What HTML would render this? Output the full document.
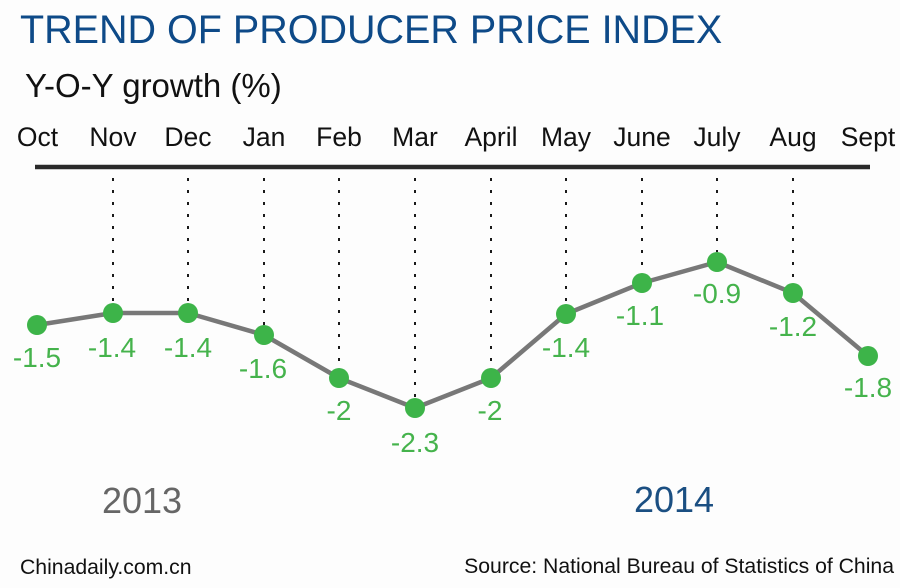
<!DOCTYPE html>
<html>
<head>
<meta charset="utf-8">
<style>
  html,body{margin:0;padding:0;background:#fdfdfd;}
  body{width:900px;height:588px;overflow:hidden;}
  svg{display:block;}
  text{font-family:"Liberation Sans", Arial, sans-serif;}
</style>
</head>
<body>
<svg width="900" height="588" viewBox="0 0 900 588" xmlns="http://www.w3.org/2000/svg">
  <rect x="0" y="0" width="900" height="588" fill="#fdfdfd"/>
  <text x="20" y="43" font-size="39.5" fill="#0e4a88">TREND OF PRODUCER PRICE INDEX</text>
  <text x="25" y="97" font-size="33" fill="#111">Y-O-Y growth (%)</text>

  <g font-size="26.5" fill="#111" text-anchor="middle">
    <text x="37.5" y="146">Oct</text>
    <text x="113" y="146">Nov</text>
    <text x="188" y="146">Dec</text>
    <text x="264" y="146">Jan</text>
    <text x="339" y="146">Feb</text>
    <text x="415" y="146">Mar</text>
    <text x="491" y="146">April</text>
    <text x="566" y="146">May</text>
    <text x="642" y="146">June</text>
    <text x="717" y="146">July</text>
    <text x="793" y="146">Aug</text>
    <text x="868" y="146">Sept</text>
  </g>

  <line x1="35" y1="167" x2="870" y2="167" stroke="#2a2a2a" stroke-width="4.5"/>

  <g stroke="#1a1a1a" stroke-width="2" stroke-dasharray="3 9">
    <line x1="113" y1="178" x2="113" y2="304"/>
    <line x1="188" y1="178" x2="188" y2="304"/>
    <line x1="264" y1="178" x2="264" y2="325"/>
    <line x1="339" y1="178" x2="339" y2="368"/>
    <line x1="415" y1="178" x2="415" y2="398"/>
    <line x1="491" y1="178" x2="491" y2="368"/>
    <line x1="566" y1="178" x2="566" y2="304"/>
    <line x1="642" y1="178" x2="642" y2="273"/>
    <line x1="717" y1="178" x2="717" y2="252"/>
    <line x1="793" y1="178" x2="793" y2="283"/>
  </g>

  <polyline fill="none" stroke="#787878" stroke-width="4.5" stroke-linejoin="round"
    points="37,325 113,313 188,313 264,335 339,378 415,408 491,378 566,314 642,283 717,262 793,293 868,356"/>

  <g fill="#3db449">
    <circle cx="37" cy="325" r="10"/>
    <circle cx="113" cy="313" r="10"/>
    <circle cx="188" cy="313" r="10"/>
    <circle cx="264" cy="335" r="10"/>
    <circle cx="339" cy="378" r="10"/>
    <circle cx="415" cy="408" r="10"/>
    <circle cx="491" cy="378" r="10"/>
    <circle cx="566" cy="314" r="10"/>
    <circle cx="642" cy="283" r="10"/>
    <circle cx="717" cy="262" r="10"/>
    <circle cx="793" cy="293" r="10"/>
    <circle cx="868" cy="356" r="10"/>
  </g>

  <g font-size="28" fill="#45b34c" text-anchor="middle">
    <text x="37" y="367">-1.5</text>
    <text x="112" y="357">-1.4</text>
    <text x="188" y="357">-1.4</text>
    <text x="263" y="378">-1.6</text>
    <text x="339" y="420">-2</text>
    <text x="415" y="452">-2.3</text>
    <text x="490" y="420">-2</text>
    <text x="566" y="357">-1.4</text>
    <text x="640" y="325">-1.1</text>
    <text x="717" y="303">-0.9</text>
    <text x="793" y="336">-1.2</text>
    <text x="868" y="397">-1.8</text>
  </g>

  <text x="142" y="513" font-size="36" fill="#666666" text-anchor="middle">2013</text>
  <text x="674" y="512" font-size="36" fill="#1b4f82" text-anchor="middle">2014</text>

  <text x="20" y="574" font-size="21.2" fill="#111">Chinadaily.com.cn</text>
  <text x="894" y="573" font-size="21.2" fill="#111" text-anchor="end">Source: National Bureau of Statistics of China</text>
</svg>
</body>
</html>
